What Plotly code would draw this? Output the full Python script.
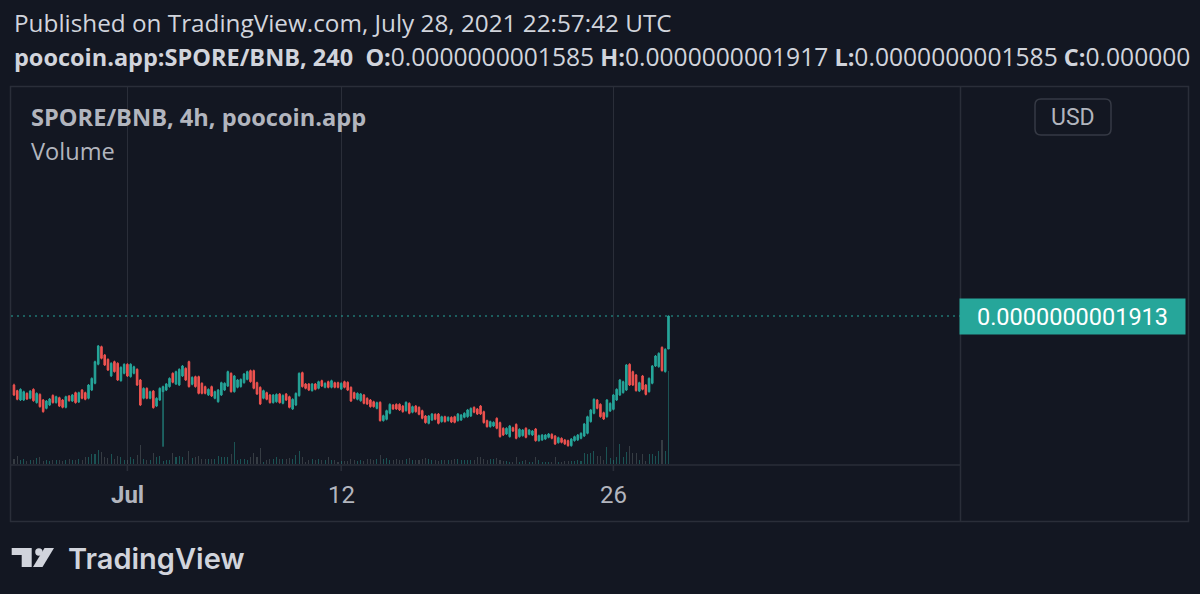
import plotly.graph_objects as go
import pandas as pd

# ---------------- data (prices in units of 1e-10 BNB) ----------------
PRICE_UNIT = 1e-10
open_ = [
    1.227, 1.171, 1.078, 1.078, 1.144, 1.095, 1.184, 1.052, 1.134, 1.078,
    0.995, 1.028, 1.124, 1.052, 1.101, 1.078, 1.005, 1.118, 1.068, 1.151,
    1.058, 1.177, 1.151, 1.095, 1.177, 1.244, 1.433, 1.608, 1.525, 1.482,
    1.317, 1.459, 1.443, 1.270, 1.343, 1.433, 1.310, 1.343, 1.383, 1.277,
    1.095, 1.194, 1.095, 1.167, 1.018, 1.078, 1.161, 1.177, 1.211, 1.343,
    1.237, 1.227, 1.317, 1.393, 1.459, 1.234, 1.310, 1.310, 1.244, 1.211,
    1.128, 1.211, 1.095, 1.061, 1.128, 1.177, 1.217, 1.343, 1.161, 1.204,
    1.211, 1.250, 1.283, 1.370, 1.370, 1.250, 1.204, 1.095, 1.151, 1.128,
    1.052, 1.061, 1.138, 1.045, 1.138, 1.111, 0.989, 1.028, 1.121, 1.350,
    1.237, 1.237, 1.171, 1.237, 1.194, 1.270, 1.204, 1.260, 1.204, 1.250,
    1.250, 1.187, 1.260, 1.254, 1.204, 1.151, 1.085, 1.071, 1.128, 1.095,
    1.078, 1.061, 0.995, 1.055, 0.873, 0.886, 0.946, 1.028, 1.035, 1.035,
    1.018, 0.972, 1.045, 0.956, 1.018, 1.005, 0.972, 0.919, 0.846, 0.879,
    0.936, 0.939, 0.863, 0.912, 0.873, 0.906, 0.912, 0.873, 0.879, 0.906,
    0.912, 0.919, 1.005, 0.989, 1.018, 0.962, 0.873, 0.813, 0.820, 0.896,
    0.853, 0.797, 0.740, 0.714, 0.803, 0.836, 0.714, 0.724, 0.797, 0.737,
    0.730, 0.790, 0.674, 0.681, 0.690, 0.707, 0.737, 0.720, 0.654, 0.697,
    0.681, 0.674, 0.624, 0.674, 0.681, 0.697, 0.720, 0.747, 0.863, 0.946,
    1.078, 1.035, 0.952, 0.912, 0.969, 0.985, 1.078, 1.128, 1.151, 1.177,
    1.433, 1.360, 1.327, 1.167, 1.317, 1.227, 1.161, 1.244, 1.416, 1.409,
    1.601, 1.360, 1.585,
]
close = [
    1.128, 1.085, 1.184, 1.161, 1.088, 1.167, 1.071, 1.144, 1.012, 0.962,
    1.068, 1.088, 1.052, 1.111, 1.018, 1.005, 1.111, 1.071, 1.128, 1.052,
    1.151, 1.095, 1.085, 1.227, 1.293, 1.459, 1.615, 1.492, 1.426, 1.376,
    1.443, 1.360, 1.277, 1.403, 1.433, 1.317, 1.433, 1.409, 1.227, 1.028,
    1.194, 1.095, 1.161, 1.002, 1.095, 1.194, 1.211, 1.237, 1.293, 1.254,
    1.360, 1.383, 1.416, 1.277, 1.211, 1.303, 1.211, 1.144, 1.144, 1.144,
    1.184, 1.118, 1.161, 1.177, 1.250, 1.244, 1.360, 1.161, 1.317, 1.277,
    1.283, 1.337, 1.360, 1.260, 1.194, 1.138, 1.038, 1.171, 1.085, 1.052,
    1.128, 1.134, 1.052, 1.124, 1.078, 1.005, 1.085, 1.144, 1.343, 1.211,
    1.194, 1.177, 1.237, 1.184, 1.260, 1.217, 1.244, 1.204, 1.270, 1.204,
    1.204, 1.244, 1.204, 1.177, 1.068, 1.095, 1.144, 1.138, 1.045, 1.038,
    1.012, 1.012, 1.052, 0.873, 0.922, 0.972, 1.035, 0.989, 0.989, 0.979,
    0.962, 1.055, 0.946, 1.012, 0.962, 0.936, 0.896, 0.853, 0.919, 0.939,
    0.886, 0.846, 0.912, 0.863, 0.906, 0.859, 0.856, 0.939, 0.929, 0.946,
    0.979, 0.995, 0.956, 0.939, 0.939, 0.853, 0.813, 0.863, 0.856, 0.797,
    0.714, 0.730, 0.797, 0.820, 0.770, 0.697, 0.787, 0.780, 0.707, 0.780,
    0.770, 0.674, 0.724, 0.730, 0.730, 0.740, 0.697, 0.641, 0.704, 0.657,
    0.641, 0.624, 0.690, 0.714, 0.730, 0.747, 0.840, 0.912, 0.979, 1.085,
    0.995, 0.912, 0.889, 1.078, 1.045, 1.128, 1.184, 1.277, 1.260, 1.426,
    1.227, 1.227, 1.171, 1.250, 1.184, 1.134, 1.293, 1.416, 1.515, 1.542,
    1.370, 1.582, 1.913,
]
high = [
    1.240, 1.180, 1.194, 1.171, 1.154, 1.177, 1.194, 1.154, 1.144, 1.088,
    1.078, 1.098, 1.134, 1.121, 1.111, 1.088, 1.121, 1.128, 1.138, 1.161,
    1.161, 1.187, 1.161, 1.237, 1.303, 1.469, 1.625, 1.618, 1.535, 1.492,
    1.453, 1.469, 1.453, 1.413, 1.443, 1.443, 1.443, 1.419, 1.393, 1.287,
    1.204, 1.204, 1.171, 1.177, 1.105, 1.204, 1.221, 1.247, 1.303, 1.353,
    1.370, 1.393, 1.426, 1.403, 1.469, 1.313, 1.320, 1.320, 1.254, 1.221,
    1.194, 1.221, 1.171, 1.187, 1.260, 1.254, 1.370, 1.353, 1.327, 1.287,
    1.293, 1.347, 1.370, 1.380, 1.380, 1.260, 1.214, 1.181, 1.161, 1.138,
    1.138, 1.144, 1.148, 1.134, 1.148, 1.121, 1.095, 1.154, 1.353, 1.360,
    1.247, 1.247, 1.247, 1.247, 1.270, 1.280, 1.254, 1.270, 1.280, 1.260,
    1.260, 1.254, 1.270, 1.264, 1.214, 1.161, 1.154, 1.148, 1.138, 1.105,
    1.088, 1.071, 1.062, 1.065, 0.932, 0.982, 1.045, 1.038, 1.045, 1.045,
    1.028, 1.065, 1.055, 1.022, 1.028, 1.015, 0.982, 0.929, 0.929, 0.949,
    0.946, 0.949, 0.922, 0.922, 0.916, 0.916, 0.922, 0.949, 0.939, 0.956,
    0.989, 1.005, 1.015, 0.999, 1.028, 0.972, 0.883, 0.873, 0.866, 0.906,
    0.863, 0.807, 0.807, 0.830, 0.813, 0.846, 0.797, 0.790, 0.807, 0.790,
    0.780, 0.800, 0.734, 0.740, 0.740, 0.750, 0.747, 0.730, 0.714, 0.707,
    0.691, 0.684, 0.700, 0.724, 0.740, 0.757, 0.850, 0.922, 0.989, 1.095,
    1.088, 1.045, 0.962, 1.088, 1.055, 1.138, 1.194, 1.287, 1.270, 1.436,
    1.443, 1.370, 1.337, 1.260, 1.327, 1.237, 1.303, 1.426, 1.525, 1.552,
    1.611, 1.592, 1.917,
]
low = [
    1.118, 1.075, 1.068, 1.068, 1.078, 1.085, 1.061, 1.042, 1.002, 0.952,
    0.985, 1.018, 1.042, 1.042, 1.008, 0.995, 0.995, 1.061, 1.058, 1.042,
    1.048, 1.085, 1.075, 1.085, 1.167, 1.234, 1.423, 1.482, 1.416, 1.366,
    1.307, 1.350, 1.267, 1.260, 1.333, 1.307, 1.300, 1.333, 1.217, 1.018,
    1.085, 1.085, 1.085, 0.992, 1.008, 1.068, 0.614, 1.167, 1.201, 1.244,
    1.227, 1.217, 1.307, 1.267, 1.201, 1.224, 1.201, 1.134, 1.134, 1.134,
    1.118, 1.108, 1.085, 1.051, 1.118, 1.167, 1.207, 1.151, 1.151, 1.194,
    1.201, 1.240, 1.273, 1.250, 1.184, 1.128, 1.028, 1.085, 1.075, 1.042,
    1.042, 1.051, 1.042, 1.035, 1.068, 0.995, 0.979, 1.018, 1.111, 1.201,
    1.184, 1.167, 1.161, 1.174, 1.184, 1.207, 1.194, 1.194, 1.194, 1.194,
    1.194, 1.177, 1.194, 1.167, 1.058, 1.085, 1.075, 1.061, 1.035, 1.028,
    1.002, 1.002, 0.985, 0.863, 0.863, 0.876, 0.936, 0.979, 0.979, 0.969,
    0.952, 0.962, 0.936, 0.946, 0.952, 0.926, 0.886, 0.843, 0.836, 0.869,
    0.876, 0.836, 0.853, 0.853, 0.863, 0.849, 0.846, 0.863, 0.869, 0.896,
    0.902, 0.909, 0.946, 0.929, 0.929, 0.843, 0.803, 0.803, 0.810, 0.787,
    0.704, 0.720, 0.730, 0.704, 0.760, 0.687, 0.704, 0.714, 0.697, 0.727,
    0.720, 0.664, 0.664, 0.671, 0.680, 0.697, 0.687, 0.631, 0.644, 0.647,
    0.631, 0.614, 0.614, 0.664, 0.671, 0.687, 0.710, 0.737, 0.853, 0.936,
    0.985, 0.902, 0.879, 0.902, 0.959, 0.975, 1.068, 1.118, 1.141, 1.167,
    1.217, 1.217, 1.161, 1.157, 1.174, 1.124, 1.151, 1.234, 1.406, 1.399,
    1.360, 1.350, 1.585,
]
volume = [
    5, 8, 4, 5, 3, 4, 4, 6, 7, 3,
    4, 3, 4, 4, 4, 3, 4, 5, 4, 4,
    5, 4, 7, 7, 10, 10, 14, 12, 7, 6,
    10, 5, 8, 7, 4, 4, 7, 5, 9, 19,
    5, 4, 4, 11, 7, 8, 3, 4, 4, 11,
    7, 8, 7, 4, 13, 6, 7, 8, 5, 5,
    5, 5, 5, 8, 7, 7, 7, 10, 22, 4,
    5, 5, 4, 7, 11, 7, 16, 2, 4, 5,
    5, 7, 5, 5, 5, 6, 5, 9, 13, 7,
    2, 4, 5, 4, 5, 4, 4, 7, 4, 4,
    2, 3, 3, 3, 5, 4, 3, 4, 3, 5,
    5, 4, 5, 9, 5, 6, 4, 4, 5, 4,
    4, 5, 6, 4, 4, 4, 5, 6, 5, 4,
    4, 3, 4, 4, 4, 4, 5, 5, 4, 4,
    4, 4, 4, 7, 7, 5, 4, 5, 5, 6,
    4, 3, 3, 2, 2, 7, 2, 3, 4, 2,
    2, 7, 4, 2, 2, 2, 2, 7, 2, 2,
    3, 3, 3, 3, 4, 3, 11, 10, 11, 13,
    8, 8, 4, 17, 6, 4, 7, 20, 7, 12,
    18, 11, 11, 4, 10, 3, 10, 10, 8, 13,
    24, 13, 93,
]
first_bar = "2021-06-25 04:00"
bar_interval = "4h"
tick_dates = ["2021-07-01", "2021-07-12", "2021-07-26"]
tick_labels = ["<b>Jul</b>", "12", "26"]
x_view = ["2021-06-25 00:18", "2021-08-12 19:54"]
y_view = [0.442, 4.189]

header1 = "Published on TradingView.com, July 28, 2021 22:57:42 UTC"
ohlc_labels = ["O:", "H:", "L:", "C:"]
ohlc_values = ["0.0000000001585", "0.0000000001917", "0.0000000001585", "0.000000"]
symbol_text = "poocoin.app:SPORE/BNB, 240"
legend1 = "<b>SPORE/BNB, 4h, poocoin.app</b>"
legend2 = "Volume"
price_text = "0.0000000001913"

# ---------------- styling ----------------
BG = "#131722"
GRID = "#2a2e39"
FRAME = "#2a2e39"
TEAL = "#26a69a"
RED = "#ef5350"
TXT = "#b2b5be"
TXT_LIGHT = "#d1d4dc"

W, H = 1200, 594
L, R, T, B = 11, 960, 87, 464


def px(x):
    return (x - L) / (R - L)


def py(y):
    return (B - y) / (B - T)


times = pd.date_range(first_bar, periods=len(close), freq=bar_interval)
o = [v * PRICE_UNIT for v in open_]
h = [v * PRICE_UNIT for v in high]
lo = [v * PRICE_UNIT for v in low]
c = [v * PRICE_UNIT for v in close]
vol_colors = ["rgba(38,166,154,0.42)" if cc >= oo else "rgba(120,130,130,0.35)"
              for oo, cc in zip(open_, close)]

fig = go.Figure()
fig.add_trace(go.Bar(
    x=times, y=volume, marker=dict(color=vol_colors, line=dict(width=0)),
    width=4.6e6, yaxis="y", hoverinfo="skip", showlegend=False))
fig.add_trace(go.Candlestick(
    x=times, open=o, high=h, low=lo, close=c, yaxis="y2",
    increasing=dict(line=dict(color=TEAL, width=1), fillcolor=TEAL),
    decreasing=dict(line=dict(color=RED, width=1), fillcolor=RED),
    whiskerwidth=0, hoverinfo="skip", showlegend=False))

shapes = []
# outer frame and separators
shapes.append(dict(type="rect", xref="paper", yref="paper",
                   x0=px(10.5), x1=px(1188.5), y0=py(86.5), y1=py(521.5),
                   line=dict(color=FRAME, width=1.5), layer="below"))
shapes.append(dict(type="line", xref="paper", yref="paper",
                   x0=px(960.5), x1=px(960.5), y0=py(86.5), y1=py(521.5),
                   line=dict(color=FRAME, width=1.5)))
shapes.append(dict(type="line", xref="paper", yref="paper",
                   x0=px(10.5), x1=px(960.5), y0=py(465), y1=py(465),
                   line=dict(color=FRAME, width=1.5)))
for d in tick_dates:
    shapes.append(dict(type="line", xref="x", yref="paper",
                       x0=d, x1=d, y0=py(465), y1=py(471),
                       line=dict(color=FRAME, width=1.5)))
# last price dotted line and tick
last_price = close[-1] * PRICE_UNIT
shapes.append(dict(type="line", xref="paper", yref="y2",
                   x0=0, x1=1, y0=last_price, y1=last_price,
                   line=dict(color=TEAL, width=1.2, dash="2px,4px")))


def rounded_rect(x0, y0, x1, y1, r):
    pts = (f"M{px(x0 + r)},{py(y0)} L{px(x1 - r)},{py(y0)} "
           f"Q{px(x1)},{py(y0)} {px(x1)},{py(y0 + r)} "
           f"L{px(x1)},{py(y1 - r)} Q{px(x1)},{py(y1)} {px(x1 - r)},{py(y1)} "
           f"L{px(x0 + r)},{py(y1)} Q{px(x0)},{py(y1)} {px(x0)},{py(y1 - r)} "
           f"L{px(x0)},{py(y0 + r)} Q{px(x0)},{py(y0)} {px(x0 + r)},{py(y0)} Z")
    return pts


shapes.append(dict(type="path", xref="paper", yref="paper",
                   path=rounded_rect(1035, 99, 1111, 135, 6),
                   line=dict(color="#363a45", width=1.5)))
# TradingView logo mark
logo_col = TXT_LIGHT
shapes.append(dict(type="path", xref="paper", yref="paper",
                   path=(f"M{px(11.7)},{py(548)} L{px(31.7)},{py(548)} L{px(31.7)},{py(567)} "
                         f"L{px(21.7)},{py(567)} L{px(21.7)},{py(555)} L{px(11.7)},{py(555)} Z"),
                   fillcolor=logo_col, line=dict(width=0)))
shapes.append(dict(type="circle", xref="paper", yref="paper",
                   x0=px(35.2), x1=px(42.6), y0=py(548.3), y1=py(555.7),
                   fillcolor=logo_col, line=dict(width=0)))
shapes.append(dict(type="path", xref="paper", yref="paper",
                   path=(f"M{px(44.5)},{py(548)} L{px(54)},{py(548)} L{px(42.5)},{py(567)} "
                         f"L{px(33)},{py(567)} Z"),
                   fillcolor=logo_col, line=dict(width=0)))

header2 = f"<b>{symbol_text}</b>\u00a0\u00a0" + " ".join(
    f"<b>{lab}</b><span style='font-size:24.6px'>{val}</span>"
    for lab, val in zip(ohlc_labels, ohlc_values))

ann = []
ann.append(dict(text=header1, x=px(12), y=py(22), xref="paper", yref="paper",
                xanchor="left", yanchor="middle", showarrow=False,
                font=dict(family="Open Sans", size=24.3, color=TXT_LIGHT)))
ann.append(dict(text=header2, x=px(12), y=py(57), xref="paper", yref="paper",
                xanchor="left", yanchor="middle", showarrow=False,
                font=dict(family="Open Sans", size=23.5, color=TXT_LIGHT)))
ann.append(dict(text=legend1, x=px(29), y=py(117), xref="paper", yref="paper",
                xanchor="left", yanchor="middle", showarrow=False,
                font=dict(family="Open Sans", size=23.6, color=TXT)))
ann.append(dict(text=legend2, x=px(29), y=py(151), xref="paper", yref="paper",
                xanchor="left", yanchor="middle", showarrow=False,
                font=dict(family="Open Sans", size=23.6, color=TXT)))
for d, lab in zip(tick_dates, tick_labels):
    ann.append(dict(text=lab, x=d, y=py(495.5), xref="x", yref="paper",
                    xanchor="center", yanchor="middle", showarrow=False,
                    font=dict(family="Roboto", size=24, color=TXT)))
ann.append(dict(text="USD", x=px(1073), y=py(117), xref="paper", yref="paper",
                xanchor="center", yanchor="middle", showarrow=False,
                font=dict(family="Roboto", size=23, color=TXT)))
ann.append(dict(text=price_text, x=px(959), y=last_price, xref="paper", yref="y2",
                xanchor="left", yanchor="middle", showarrow=False,
                bgcolor=TEAL, width=221, height=31, borderpad=2, align="center",
                font=dict(family="Roboto", size=23.5, color="#ffffff")))
ann.append(dict(text="TradingView", x=px(66), y=py(558), xref="paper", yref="paper",
                xanchor="left", yanchor="middle", showarrow=False,
                font=dict(family="Inter", size=29, color=TXT_LIGHT, weight=600)))
# small white tick on price label
shapes.append(dict(type="line", xref="paper", yref="y2",
                   x0=px(961), x1=px(968), y0=last_price, y1=last_price,
                   line=dict(color="#ffffff", width=1.5)))

fig.update_layout(
    width=W, height=H, autosize=False,
    margin=dict(l=L, r=W - R, t=T, b=H - B, pad=0),
    paper_bgcolor=BG, plot_bgcolor=BG,
    showlegend=False, bargap=0,
    xaxis=dict(type="date", range=x_view, showgrid=True, gridcolor=GRID, gridwidth=1,
               tickvals=tick_dates, showticklabels=False, ticks="",
               zeroline=False, showline=False, rangeslider=dict(visible=False),
               fixedrange=True),
    yaxis=dict(range=[0, 377], visible=False, fixedrange=True),
    yaxis2=dict(range=[v * PRICE_UNIT for v in y_view], overlaying="y",
                visible=False, fixedrange=True),
    shapes=shapes, annotations=ann,
)

fig.write_html(
    "out.html",
    config={"displayModeBar": False},
    post_script="document.body.style.margin='0px';document.body.style.background='#131722';",
)
